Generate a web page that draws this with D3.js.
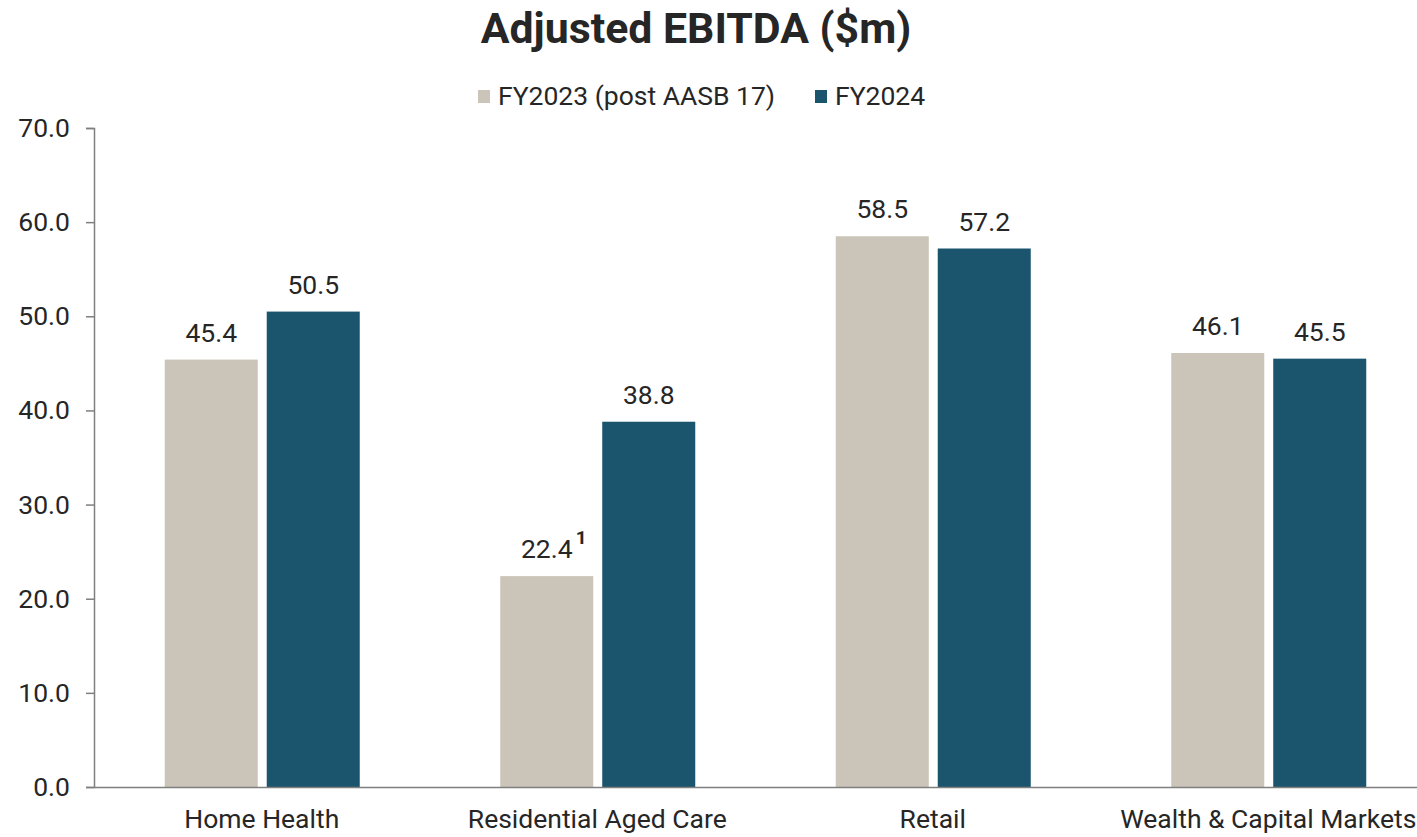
<!DOCTYPE html>
<html lang="en">
  <head>
    <meta charset="UTF-8">
    <title>Adjusted EBITDA</title>
    <style>
      body { margin: 0; background: #fff; }
      text { font-family: Roboto, "Noto Sans", sans-serif; fill: #262626; }
    </style>
  </head>
  <body>
    <svg id="chart" width="1417" height="837"></svg>
    <script src="https://d3js.org/d3.v7.min.js"></script>
    <script>
      // datos del grafico
      var categorias = ["Home Health", "Residential Aged Care", "Retail", "Wealth & Capital Markets"];
      var series = ["FY2023 (post AASB 17)", "FY2024"];
      var fy2023 = [45.4, 22.4, 58.5, 46.1];
      var fy2024 = [50.5, 38.8, 57.2, 45.5];
      var notas = ["", "1", "", ""]; // superindice sobre FY2023
      var ticksY = [0, 10, 20, 30, 40, 50, 60, 70];
      var colores = ["#cbc4b8", "#1a556d"];

      var svg = d3.select("#chart"),
        mIzq = 94, mDer = 1436, mSup = 128, mInf = 787;

      var x = d3.scaleBand().domain(categorias).range([mIzq, mDer]);
      var xs = d3.scaleBand().domain(series).range([x.bandwidth()/2 - 97, x.bandwidth()/2 + 98]).paddingInner(0.088);
      var y = d3.scaleLinear().domain([0, 70]).range([mInf, mSup]);

      // titulo
      svg.append("text").attr("x", 696).attr("y", 43).attr("text-anchor", "middle")
        .style("font-size", "42.8px").style("font-weight", "bold").text("Adjusted EBITDA ($m)");

      // leyenda
      var leyX = [478, 815];
      series.forEach(function(s, i) {
        svg.append("rect").attr("x", leyX[i]).attr("y", 90).attr("width", 12).attr("height", 13).attr("fill", colores[i]);
        svg.append("text").attr("x", leyX[i] + 20).attr("y", 105).style("font-size", "26.5px").text(s);
      });

      // eje y
      var ejeY = svg.append("g").attr("transform", "translate(" + mIzq + ",0)")
        .call(d3.axisLeft(y).tickValues(ticksY).tickFormat(d3.format(".1f")).tickSize(8).tickPadding(16));
      ejeY.select(".domain").attr("stroke", "#7f7f7f").attr("stroke-width", 1.5);
      ejeY.selectAll(".tick line").attr("stroke", "#7f7f7f").attr("stroke-width", 1.5);
      ejeY.selectAll(".tick text").style("font-size", "26.5px").attr("fill", "#262626").style("font-family", "Roboto");

      // barras
      var filas = categorias.map(function(c, i) {
        return {cat: c, vals: [fy2023[i], fy2024[i]], nota: notas[i]};
      });
      var grupos = svg.selectAll("g.grupo").data(filas).enter().append("g")
        .attr("class", "grupo")
        .attr("transform", function(d) { return "translate(" + x(d.cat) + ",0)"; });

      grupos.each(function(d) {
        var g = d3.select(this);
        d.vals.forEach(function(v, j) {
          var bx = xs(series[j]);
          g.append("rect").attr("x", bx).attr("y", y(v)).attr("width", xs.bandwidth())
            .attr("height", y(0) - y(v)).attr("fill", colores[j]);
          g.append("text").attr("x", bx + xs.bandwidth()/2).attr("y", y(v) - 18)
            .attr("text-anchor", "middle").style("font-size", "26.5px").text(v.toFixed(1));
          if (j === 0 && d.nota) {
            g.append("text").attr("x", bx + xs.bandwidth()/2 + 29).attr("y", y(v) - 32)
              .style("font-size", "19px").style("font-weight", "bold").text(d.nota);
          }
        });
      });

      // eje x
      var ejeX = svg.append("g").attr("transform", "translate(0," + mInf + ")")
        .call(d3.axisBottom(x).tickSize(0).tickPadding(22));
      ejeX.select(".domain").attr("stroke", "#7f7f7f").attr("stroke-width", 1.5);
      ejeX.selectAll(".tick text").style("font-size", "26.5px").attr("fill", "#262626").style("font-family", "Roboto");
    </script>
  </body>
</html>
